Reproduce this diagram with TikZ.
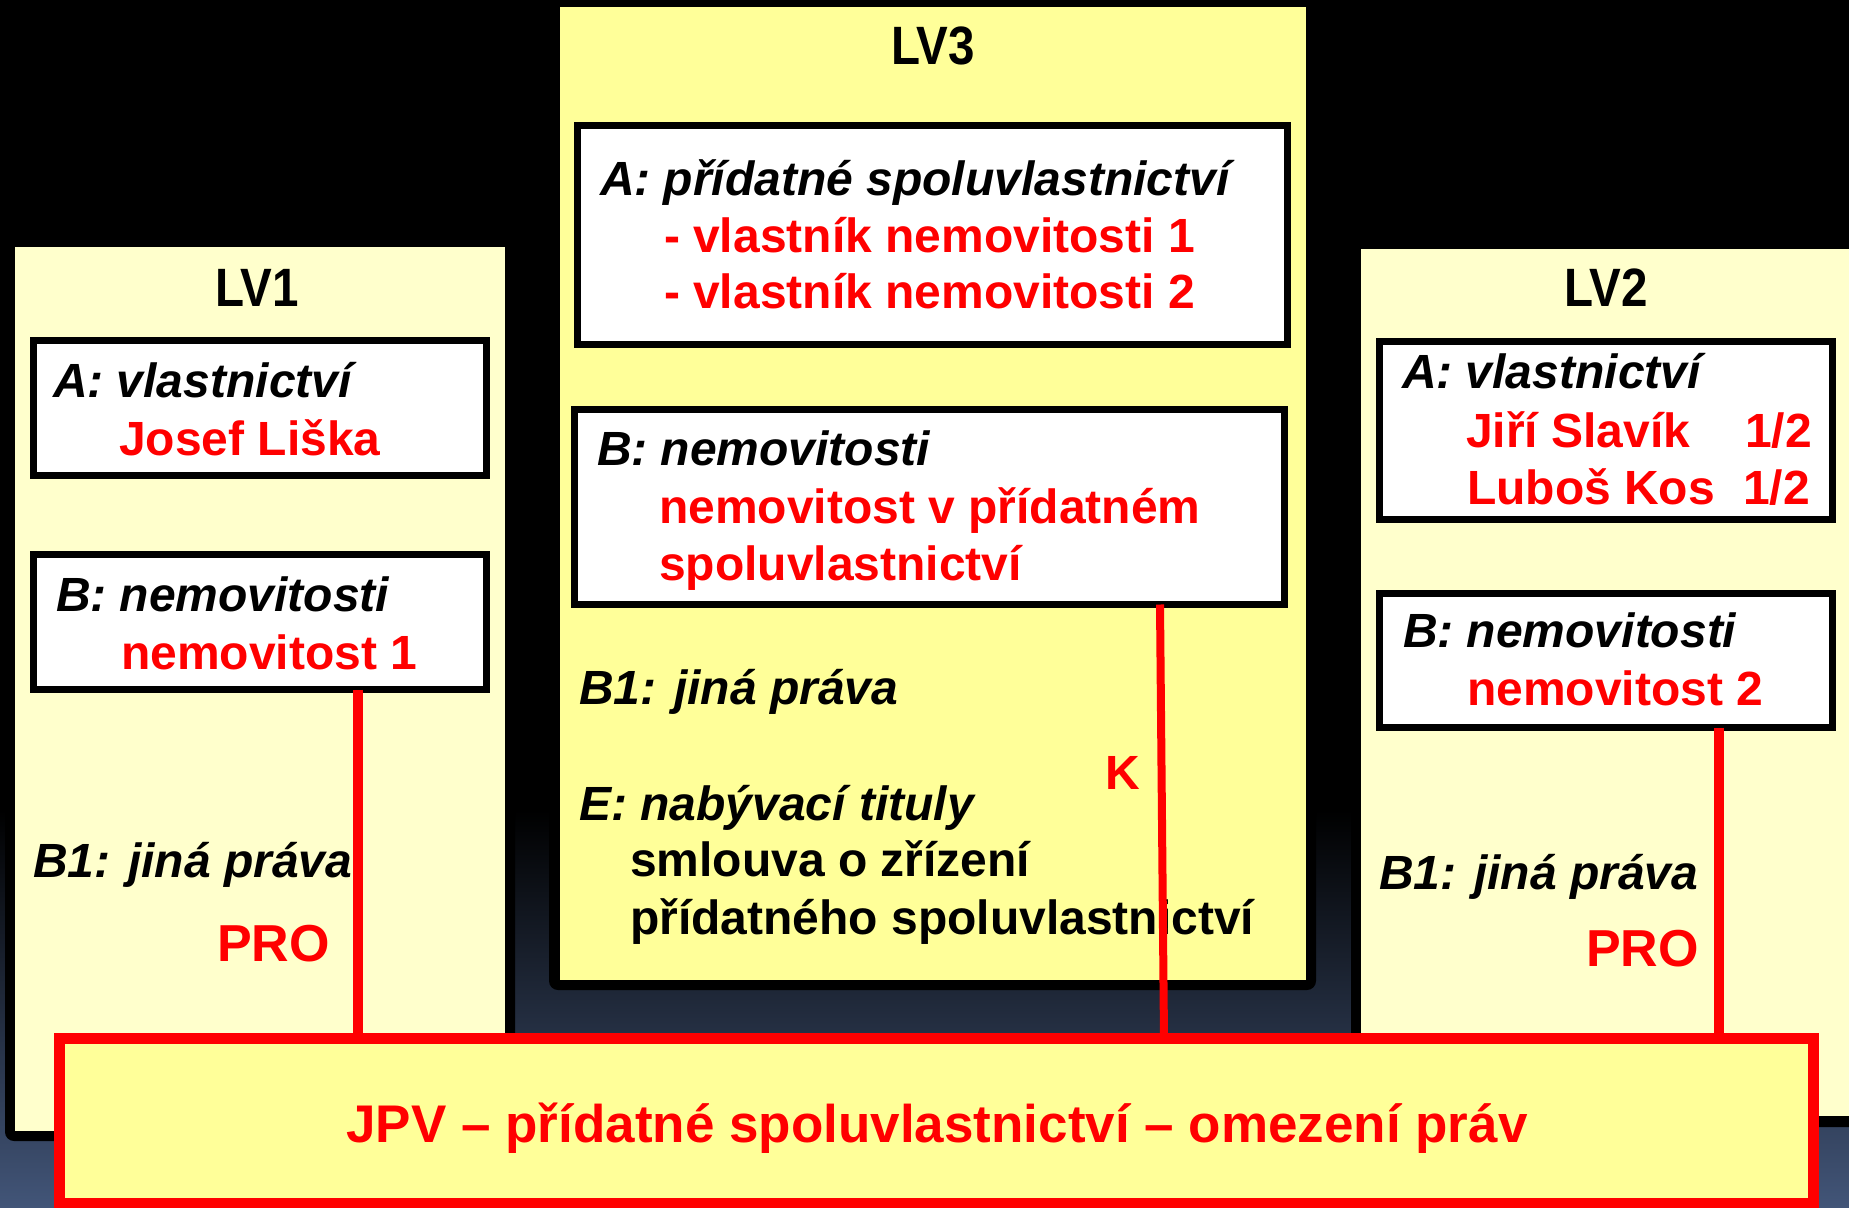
\documentclass[tikz,border=0pt]{standalone}
\usepackage{fontspec}
\setmainfont{Liberation Sans}
\definecolor{lvlight}{HTML}{FFFFCC}
\definecolor{lvyellow}{HTML}{FFFF99}
\definecolor{lvred}{HTML}{FF0000}
\definecolor{bgblue}{RGB}{66,85,120}
\tikzset{
  panelback/.style={fill=black, rounded corners=9pt},
  panel/.style={anchor=north west, inner sep=0, outer sep=0},
  infobox/.style={anchor=north west, draw=black, line width=7pt, fill=white, inner sep=0, outer sep=0},
  jpvbox/.style={anchor=north west, draw=lvred, line width=11pt, fill=lvyellow, inner sep=0, outer sep=0},
  txt/.style={anchor=base west, inner sep=0, outer sep=0, font=\fontsize{48}{58}\selectfont\bfseries},
  ittxt/.style={txt, font=\fontsize{48}{58}\selectfont\bfseries\itshape},
  redtxt/.style={txt, text=lvred},
  protxt/.style={redtxt, font=\fontsize{52}{60}\selectfont\bfseries},
  title/.style={anchor=base, inner sep=0, font=\fontsize{54}{60}\selectfont\bfseries},
  conn/.style={draw=lvred, line width=10pt},
  thinconn/.style={draw=lvred, line width=8pt},
}
\newcommand{\condensed}[1]{\scalebox{0.88}[1]{#1}}
\begin{document}
\begin{tikzpicture}[x=1pt,y=-1pt]
\useasboundingbox (0,0) rectangle (1849,1207);
\clip (0,0) rectangle (1849,1207);
% background
\fill[black] (0,0) rectangle (1849,812);
\shade[top color=black, bottom color=bgblue] (0,810) rectangle (1849,1207);

% panels
\fill[panelback] (5,237) rectangle (515,1141);
\node[panel, fill=lvlight, minimum width=490pt, minimum height=884pt] (lv1) at (15,247) {};
\fill[panelback] (549,-4) rectangle (1316,990);
\node[panel, fill=lvyellow, minimum width=746pt, minimum height=973pt] (lv3) at (560,7) {};
\fill[panelback] (1351,239) rectangle (1870,1127);
\node[panel, fill=lvlight, minimum width=520pt, minimum height=867pt] (lv2) at (1361,249) {};

% titles
\node[title] (t1) at (257,306) {\condensed{LV1}};
\node[title] (t3) at (933,64) {\condensed{LV3}};
\node[title] (t2) at (1606,306) {\condensed{LV2}};

% inner boxes
\node[infobox, minimum width=453pt, minimum height=135pt] (lv1a) at (33.5,340.5) {};
\node[infobox, minimum width=453pt, minimum height=135pt] (lv1b) at (33.5,554.5) {};
\node[infobox, minimum width=710pt, minimum height=219pt] (lv3a) at (577.5,125.5) {};
\node[infobox, minimum width=710pt, minimum height=195pt] (lv3b) at (574.5,409.5) {};
\node[infobox, minimum width=453pt, minimum height=178pt] (lv2a) at (1379.5,341.5) {};
\node[infobox, minimum width=453pt, minimum height=134pt] (lv2b) at (1379.5,593.5) {};

% LV1 texts
\node[ittxt] (l1aA) at (53,397) {A: vlastnictví};
\node[redtxt] (l1aN) at (119,455) {Josef Liška};
\node[ittxt] (l1bB) at (56,611) {B: nemovitosti};
\node[redtxt] (l1bN) at (121,669) {nemovitost 1};
\node[ittxt] (l1b1) at (33,877) {B1: jiná práva};
\node[protxt] (l1pro) at (217,961) {PRO};

% LV3 texts
\node[ittxt] (l3aA) at (600,195) {A: přídatné spoluvlastnictví};
\node[redtxt] (l3a1) at (664,252) {- vlastník nemovitosti 1};
\node[redtxt] (l3a2) at (664,308) {- vlastník nemovitosti 2};
\node[ittxt] (l3bB) at (597,465) {B: nemovitosti};
\node[redtxt] (l3b1) at (659,523) {nemovitost v přídatném};
\node[redtxt] (l3b2) at (659,580) {spoluvlastnictví};
\node[ittxt] (l3b1t) at (579,704) {B1: jiná práva};
\node[redtxt] (l3k) at (1105,789) {K};
\node[ittxt] (l3e) at (579,820) {E: nabývací tituly};
\node[txt] (l3e1) at (630,876) {smlouva o zřízení};
\node[txt] (l3e2) at (630,934) {přídatného spoluvlastnictví};

% LV2 texts
\node[ittxt] (l2aA) at (1402,388) {A: vlastnictví};
\node[redtxt] (l2a1) at (1466,447) {Jiří Slavík};
\node[redtxt] (l2a1s) at (1745,447) {1/2};
\node[redtxt] (l2a2) at (1467,504) {Luboš Kos};
\node[redtxt] (l2a2s) at (1743,504) {1/2};
\node[ittxt] (l2bB) at (1403,647) {B: nemovitosti};
\node[redtxt] (l2bN) at (1467,705) {nemovitost 2};
\node[ittxt] (l2b1) at (1379,889) {B1: jiná práva};
\node[protxt] (l2pro) at (1586,966) {PRO};

% JPV box
\node[jpvbox, minimum width=1754pt, minimum height=165pt] (jpv) at (59.5,1038.5) {};
\node[anchor=base, inner sep=0, text=lvred, font=\fontsize{53}{62}\selectfont\bfseries] (jpvt) at (937,1142) {JPV – přídatné spoluvlastnictví – omezení práv};

% connectors
\coordinate (k1) at (358,0);
\coordinate (k3a) at (1160,0);
\coordinate (k3b) at (1164,0);
\coordinate (k2) at (1719,0);
\draw[conn] (k1 |- lv1b.south) -- (k1 |- jpv.north);
\draw[thinconn] (k3a |- lv3b.south) -- (k3b |- jpv.north);
\draw[conn] (k2 |- lv2b.south) -- (k2 |- jpv.north);
\end{tikzpicture}
\end{document}
